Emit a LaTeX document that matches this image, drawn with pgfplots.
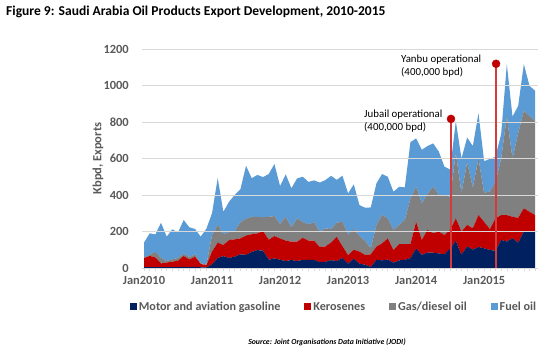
\documentclass[border=0pt]{standalone}
\usepackage{fontspec}
\setmainfont{Carlito}
\usepackage{pgfplots}
\pgfplotsset{compat=1.18}
\usepackage{pgfplotstable}
\definecolor{cnavy}{HTML}{002060}
\definecolor{cred}{HTML}{C00000}
\definecolor{cgray}{HTML}{808080}
\definecolor{cblue}{HTML}{5B9BD5}
\definecolor{ctxt}{HTML}{595959}
\definecolor{cgrid}{HTML}{D9D9D9}
\definecolor{cline}{HTML}{D23C3C}

\pgfplotstableread{
m n k d f
0 5 50 2 82
1 5 61 7 117
2 5 53 31 95
3 5 20 30 193
4 5 25 8 134
5 5 30 13 164
6 5 35 15 140
7 6 60 11 186
8 5 42 13 163
9 6 56 13 139
10 4 18 5 145
11 3 12 3 197
12 20 70 91 119
13 55 84 97 257
14 65 61 60 122
15 55 98 44 166
16 62 95 45 198
17 75 87 88 181
18 72 106 92 290
19 88 97 96 211
20 98 92 90 230
21 95 107 76 220
22 45 110 125 235
23 53 122 110 285
24 45 117 78 209
25 38 112 130 233
26 44 100 78 215
27 38 106 128 219
28 45 120 87 248
29 45 105 90 232
30 45 105 100 230
31 32 83 83 270
32 34 84 99 265
33 43 97 73 292
34 38 132 78 235
35 55 65 134 252
36 24 46 113 226
37 51 49 115 243
38 24 66 85 170
39 18 53 79 180
40 6 69 32 225
41 45 72 119 228
42 42 93 155 225
43 46 116 110 228
44 29 69 110 210
45 42 89 105 209
46 45 86 132 179
47 55 76 249 310
48 107 147 192 264
49 72 82 201 293
50 85 124 197 262
51 84 106 256 237
52 80 120 200 238
53 75 106 219 155
54 107 102 181 150
55 149 123 358 175
56 73 127 210 190
57 118 118 344 135
58 101 117 222 228
59 115 175 310 248
60 108 145 158 174
61 99 114 207 178
62 94 178 198 139
63 154 136 310 135
64 145 145 540 287
65 163 118 319 230
66 139 136 465 148
67 200 127 534 256
68 200 108 525 165
69 200 90 516 165
}\data

\begin{document}
\begin{tikzpicture}[x=1bp,y=1bp]
\path[use as bounding box] (0,0) rectangle (558,353);
\node[anchor=west, inner sep=0, font=\fontsize{13.6}{15}\selectfont\bfseries] at (6,341.5) {Figure 9: Saudi Arabia Oil Products Export Development, 2010-2015};

\begin{axis}[
  at={(142.3bp,85bp)}, anchor=south west,
  scale only axis, width=395.7bp, height=219bp,
  xmin=-0.3, xmax=69.5, ymin=0, ymax=1200,
  stack plots=y, area style,
  axis x line*=bottom, axis y line*=left,
  x axis line style={draw=cgrid, line width=0.8pt},
  y axis line style={draw=none},
  xtick={0,12,24,36,48,60},
  xticklabels={Jan2010,Jan2011,Jan2012,Jan2013,Jan2014,Jan2015},
  minor xtick={0,...,69},
  tick align=outside,
  major tick length=3bp, minor tick length=3bp,
  xtick style={draw=cgrid, line width=0.6pt},
  ytick={0,200,...,1200},
  ytick style={draw=none},
  ymajorgrids, grid style={draw=cgrid, line width=0.8pt},
  /pgf/number format/assume math mode=true,
  /pgf/number format/set thousands separator={},
  ticklabel style={font=\fontsize{12.5}{14}\selectfont\bfseries, text=ctxt},
  xticklabel style={yshift=-2bp},
  yticklabel style={xshift=-7bp},
  ylabel={Kbpd, Exports},
  ylabel style={at={(axis description cs:-0.112,0.5)}, anchor=center, font=\fontsize{12.5}{14}\selectfont\bfseries, text=ctxt},
  legend columns=4,
  legend cell align=left,
  legend style={at={(axis description cs:0.4845,-0.178)}, anchor=center, draw=none, fill=none,
    font=\fontsize{12.2}{14}\selectfont\bfseries, text=ctxt,
    /tikz/every even column/.append style={column sep=22bp},
    inner sep=0pt},
  legend image code/.code={\fill[#1] (0bp,-3.5bp) rectangle (7bp,3.5bp);},
]
\addplot[fill=cnavy, draw=none] table[x=m, y=n] {\data} \closedcycle;
\addplot[fill=cred, draw=none] table[x=m, y=k] {\data} \closedcycle;
\addplot[fill=cgray, draw=none] table[x=m, y=d] {\data} \closedcycle;
\addplot[fill=cblue, draw=none] table[x=m, y=f] {\data} \closedcycle;
\legend{Motor and aviation gasoline, Kerosenes, Gas/diesel oil, Fuel oil}
\end{axis}

\begin{axis}[
  at={(142.3bp,85bp)}, anchor=south west,
  scale only axis, width=395.7bp, height=219bp,
  xmin=-0.3, xmax=69.5, ymin=0, ymax=1200,
  hide axis, clip=false,
]
\addplot[no markers, draw=cline, line width=1.3bp] coordinates {(54.15,0) (54.15,817)};
\addplot[only marks, mark=*, mark size=4bp, color=cred] coordinates {(54.15,817)};
\addplot[no markers, draw=cline, line width=1.3bp] coordinates {(62.1,0) (62.1,1119)};
\addplot[only marks, mark=*, mark size=4bp, color=cred] coordinates {(62.1,1119)};
\end{axis}

\node[anchor=north west, align=left, inner sep=0, font=\fontsize{10.9}{13}\selectfont] at (364,243) {Jubail operational\\(400,000 bpd)};
\node[anchor=north west, align=left, inner sep=0, font=\fontsize{10.9}{13}\selectfont] at (401,298) {Yanbu operational\\(400,000 bpd)};

\node[font=\fontsize{7.8}{9}\selectfont\bfseries\itshape] at (327,11) {Source: Joint Organisations Data Initiative (JODI)};
\end{tikzpicture}
\end{document}
